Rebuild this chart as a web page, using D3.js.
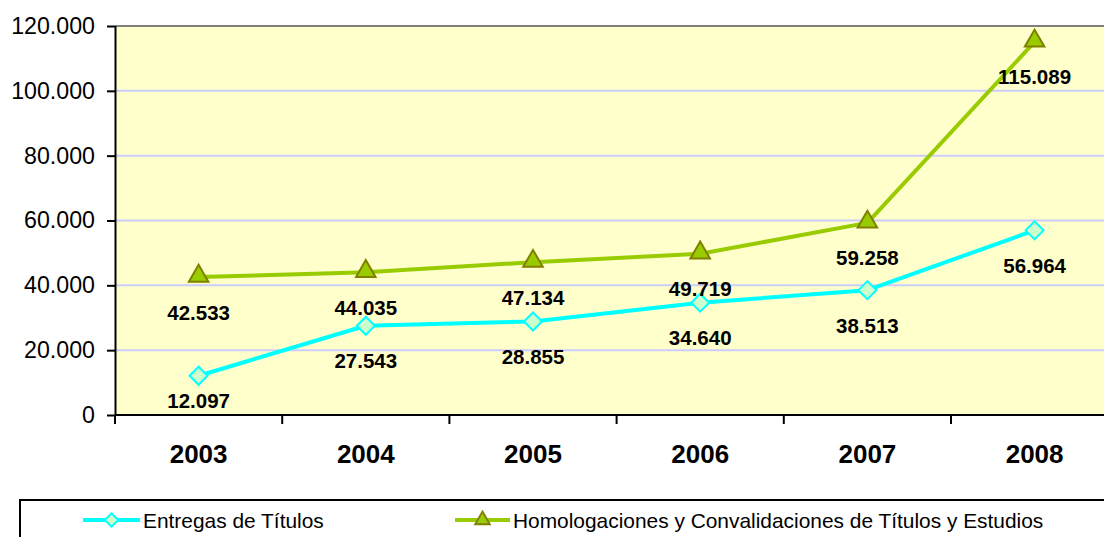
<!DOCTYPE html>
<html>
<head>
<meta charset="utf-8">
<script src="https://cdn.jsdelivr.net/npm/d3@7"></script>
<style>
  html, body { margin: 0; padding: 0; background: #fff; overflow: hidden; }
  svg { display: block; font-family: Arial, "Liberation Sans", sans-serif; }
</style>
</head>
<body>
<svg id="chart" width="1104" height="537"></svg>
<script>
// Years on the category axis
const years = ["2003", "2004", "2005", "2006", "2007", "2008"];
// Series values
const entregas = [12097, 27543, 28855, 34640, 38513, 56964];
const homologaciones = [42533, 44035, 47134, 49719, 59258, 115089];
const seriesNames = ["Entregas de Títulos", "Homologaciones y Convalidaciones de Títulos y Estudios"];
// Value axis ticks
const yTicks = [0, 20000, 40000, 60000, 80000, 100000, 120000];

const svg = d3.select("#chart");
const plot = { left: 115, top: 26, bottom: 415, bandWidth: 167.2 };
const plotRight = plot.left + plot.bandWidth * years.length;

const fmt = v => d3.format(",")(v).replace(/,/g, ".");

const x = d3.scaleBand().domain(years).range([plot.left, plotRight]);
const y = d3.scaleLinear().domain([0, 120000]).range([plot.bottom, plot.top]);

// Plot background
svg.append("rect")
  .attr("x", plot.left).attr("y", plot.top)
  .attr("width", plotRight - plot.left).attr("height", plot.bottom - plot.top)
  .attr("fill", "#ffffcc");

// Horizontal gridlines
svg.append("g").selectAll("line")
  .data(yTicks.filter(t => t > 0 && t < 120000))
  .join("line")
  .attr("x1", plot.left).attr("x2", plotRight)
  .attr("y1", d => y(d)).attr("y2", d => y(d))
  .attr("stroke", "#ccccff").attr("stroke-width", 2);

// Top border of the plot area
svg.append("line")
  .attr("x1", plot.left).attr("x2", plotRight)
  .attr("y1", y(120000)).attr("y2", y(120000))
  .attr("stroke", "#808080").attr("stroke-width", 2);

// Value axis
const yAxis = svg.append("g")
  .attr("transform", `translate(${plot.left},0)`)
  .call(d3.axisLeft(y).tickValues(yTicks).tickSize(8).tickPadding(12).tickFormat(fmt));
yAxis.select(".domain").attr("stroke", "#000").attr("stroke-width", 2)
  .attr("d", `M0.5,${plot.top}V${plot.bottom}`);
yAxis.selectAll(".tick line").attr("stroke", "#000").attr("stroke-width", 2);
yAxis.selectAll(".tick text").attr("font-size", "23.2px").attr("fill", "#000")
  .attr("font-family", "Arial, 'Liberation Sans', sans-serif");

// Category axis with ticks at band boundaries
const xAxisG = svg.append("g");
xAxisG.append("line")
  .attr("x1", plot.left).attr("x2", plotRight)
  .attr("y1", plot.bottom).attr("y2", plot.bottom)
  .attr("stroke", "#000").attr("stroke-width", 2);
const boundaries = years.map(d => x(d)).concat([plotRight]);
xAxisG.selectAll("line.tk").data(boundaries).join("line").attr("class", "tk")
  .attr("x1", d => d).attr("x2", d => d)
  .attr("y1", plot.bottom).attr("y2", plot.bottom + 9)
  .attr("stroke", "#000").attr("stroke-width", 2);
xAxisG.selectAll("text").data(years).join("text")
  .attr("x", d => x(d) + x.bandwidth() / 2)
  .attr("y", 463)
  .attr("text-anchor", "middle")
  .attr("font-size", "26px").attr("font-weight", "bold")
  .text(d => d);

const line = d3.line().x((d, i) => x(years[i]) + x.bandwidth() / 2).y(d => y(d));

// Homologaciones series
svg.append("path").datum(homologaciones)
  .attr("d", line).attr("fill", "none")
  .attr("stroke", "#99cc00").attr("stroke-width", 4).attr("stroke-linejoin", "round");
// Entregas series
svg.append("path").datum(entregas)
  .attr("d", line).attr("fill", "none")
  .attr("stroke", "#00ffff").attr("stroke-width", 4).attr("stroke-linejoin", "round");

const triangle = d3.symbol().type(d3.symbolTriangle).size(165);
const diamond = "M0,-9L9,0L0,9L-9,0Z";

svg.append("g").selectAll("path")
  .data(homologaciones).join("path")
  .attr("transform", (d, i) => `translate(${x(years[i]) + x.bandwidth() / 2},${y(d) - 1})`)
  .attr("d", triangle)
  .attr("fill", "#99cc00").attr("stroke", "#808000").attr("stroke-width", 2);

svg.append("g").selectAll("path")
  .data(entregas).join("path")
  .attr("transform", (d, i) => `translate(${x(years[i]) + x.bandwidth() / 2},${y(d)})`)
  .attr("d", diamond)
  .attr("fill", "#ccffcc").attr("stroke", "#00ffff").attr("stroke-width", 2);

// Value labels below each point
function labels(data) {
  svg.append("g").selectAll("text")
    .data(data).join("text")
    .attr("x", (d, i) => x(years[i]) + x.bandwidth() / 2)
    .attr("y", d => Math.min(y(d) + 35, plot.bottom - 15) + 7.5)
    .attr("text-anchor", "middle")
    .attr("font-size", "20.5px").attr("font-weight", "bold")
    .text(d => fmt(d));
}
labels(homologaciones);
labels(entregas);

// Legend
svg.append("rect")
  .attr("x", 20).attr("y", 500).attr("width", 1100).attr("height", 60)
  .attr("fill", "#fff").attr("stroke", "#000").attr("stroke-width", 2);

const legendItems = [
  { name: seriesNames[0], x0: 83, x1: 140, color: "#00ffff", shape: diamond, fill: "#ccffcc", stroke: "#00ffff" },
  { name: seriesNames[1], x0: 455, x1: 510, color: "#99cc00", shape: triangle(), fill: "#99cc00", stroke: "#808000" }
];
const lg = svg.append("g").selectAll("g").data(legendItems).join("g");
lg.append("line")
  .attr("x1", d => d.x0).attr("x2", d => d.x1)
  .attr("y1", 520).attr("y2", 520)
  .attr("stroke", d => d.color).attr("stroke-width", 4);
lg.append("path")
  .attr("transform", d => `translate(${(d.x0 + d.x1) / 2},520) scale(0.75)`)
  .attr("d", d => d.shape)
  .attr("fill", d => d.fill).attr("stroke", d => d.stroke).attr("stroke-width", 2.5);
lg.append("text")
  .attr("x", d => d.x1 + 3).attr("y", 527.5)
  .attr("font-size", "20.9px")
  .text(d => d.name);
</script>
</body>
</html>
